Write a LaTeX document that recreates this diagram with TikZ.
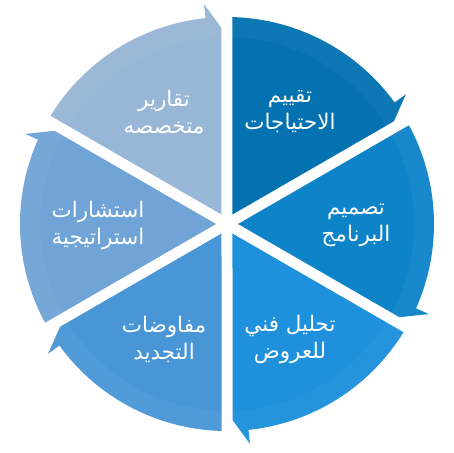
\documentclass[tikz,border=0pt]{standalone}
\usepackage{fontspec}
\newfontfamily\arabicfont[Script=Arabic]{DejaVu Sans}
\TeXXeTstate=1
\usetikzlibrary{positioning}

\definecolor{segA}{RGB}{4,114,176}
\definecolor{segB}{RGB}{14,132,200}
\definecolor{segC}{RGB}{30,144,220}
\definecolor{segD}{RGB}{72,150,214}
\definecolor{segE}{RGB}{112,164,214}
\definecolor{segF}{RGB}{152,182,214}

\begin{document}
\begin{tikzpicture}[
    x=1pt, y=1pt,
    seg/.style={draw=none},
    band/.style={fill=white, fill opacity=0.04, draw=none},
    lbl/.style={font=\arabicfont\fontsize{21.5}{27}\selectfont, text=white, align=center}
]
\useasboundingbox (-227,-229) rectangle (226,224);
\fill[white] (-227,-229) rectangle (226,224);

% six arrow segments, arrow tip on the clockwise end
\foreach \a/\c in {90/segA, 30/segB, -30/segC, -90/segD, -150/segE, 150/segF} {
  \fill[seg, \c] ({\a-30}:11) -- ({\a-1.52}:207)
    arc[start angle={\a-1.52}, end angle={\a-54.05}, radius=207]
    -- ({\a-54.05}:221) -- ({\a-58.39}:196) -- cycle;
  \fill[band] ({\a-1.68}:187) -- ({\a-1.52}:207)
    arc[start angle={\a-1.52}, end angle={\a-54.05}, radius=207]
    -- ({\a-54.05}:221) -- ({\a-58.39}:196) -- ({\a-58.32}:187)
    arc[start angle={\a-58.32}, end angle={\a-1.68}, radius=187] -- cycle;
}

% labels
\node[lbl] (needs) at (63,112) {\beginR تقييم\endR\\\beginR الاحتياجات\endR};
\node[lbl] (design) at (129,-1) {\beginR تصميم\endR\\\beginR البرنامج\endR};
\node[lbl] (offers) at (63,-115) {\beginR تحليل فني\endR\\\beginR للعروض\endR};
\node[lbl] (renew) at (-63,-115) {\beginR مفاوضات\endR\\\beginR التجديد\endR};
\node[lbl] (advice) at (-129,-1) {\beginR استشارات\endR\\\beginR استراتيجية\endR};
\node[lbl] (reports) at (-63,112) {\beginR تقارير\endR\\\beginR متخصصه\endR};
\end{tikzpicture}
\end{document}
